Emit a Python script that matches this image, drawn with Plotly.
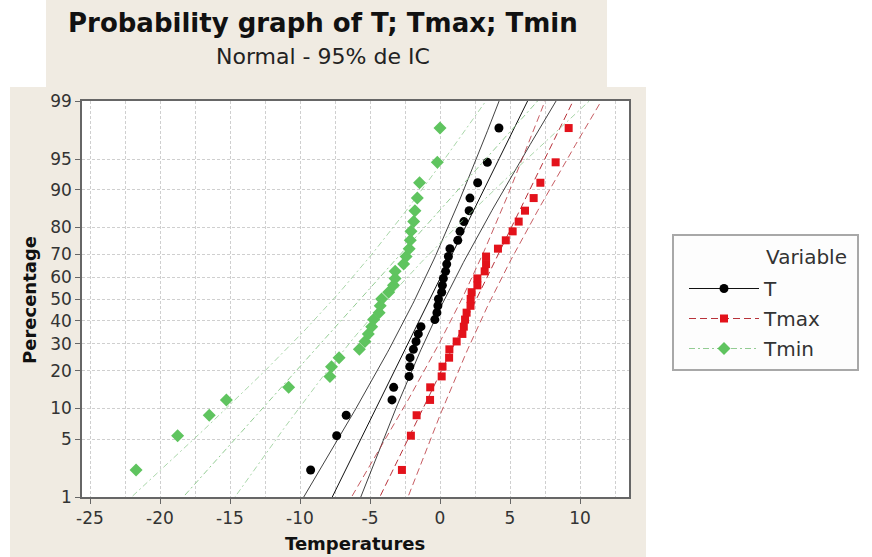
import numpy as np
import plotly.graph_objects as go
from statistics import NormalDist

# Daily temperatures (°C), one list per variable
T = [-9.24, -7.38, -6.70, -3.43, -3.31, -2.21, -2.16, -2.14, -1.90, -1.71, -1.55,
     -1.36, -0.37, -0.22, -0.15, -0.11, 0.12, 0.17, 0.24, 0.40, 0.48, 0.60, 0.71,
     1.27, 1.43, 1.71, 2.08, 2.14, 2.69, 3.38, 4.21]
TMAX = [-2.72, -2.08, -1.67, -0.71, -0.70, 0.12, 0.18, 0.65, 0.67, 1.19, 1.60,
        1.70, 1.79, 1.90, 2.18, 2.19, 2.26, 2.67, 2.67, 3.19, 3.29, 3.29, 4.14,
        4.70, 5.19, 5.62, 6.07, 6.69, 7.17, 8.26, 9.19]
TMIN = [-21.71, -18.74, -16.48, -15.26, -10.81, -7.86, -7.75, -7.21, -5.76, -5.36,
        -5.12, -4.88, -4.74, -4.35, -4.27, -4.17, -3.67, -3.32, -3.21, -3.20, -2.60,
        -2.42, -2.20, -2.12, -2.07, -1.88, -1.79, -1.62, -1.46, -0.19, 0.00]

SERIES_NAMES = ["T", "Tmax", "Tmin"]
PCT_TICKS = [1, 5, 10, 20, 30, 40, 50, 60, 70, 80, 90, 95, 99]
X_TICKS = [-25, -20, -15, -10, -5, 0, 5, 10]

nd = NormalDist()


def zscore(pct):
    return nd.inv_cdf(pct / 100.0)


Z_LO, Z_HI = zscore(PCT_TICKS[0]), zscore(PCT_TICKS[-1])
Z975 = nd.inv_cdf(0.975)

# figure geometry (pixels)
W, H = 872, 557
PL, PR, PT, PB = 82, 629, 101, 497


def px_x(px):
    return (px - PL) / (PR - PL)


def px_y(py):
    return (PB - py) / (PB - PT)


styles = {
    "T": dict(symbol="circle", msize=9, mcolor="#000000",
              dash="solid", lcolor="#111111", lwidth=1.0),
    "Tmax": dict(symbol="square", msize=8, mcolor="#e3121b",
                 dash="7px,4px", lcolor="#b8323a", lwidth=1.0),
    "Tmin": dict(symbol="diamond", msize=10, mcolor="#5fc45f",
                 dash="6px,3px,2px,3px", lcolor="#93cc93", lwidth=1.0),
}

fig = go.Figure()

zgrid = np.linspace(Z_LO - 0.1, Z_HI + 0.1, 120)
for name, vals in zip(SERIES_NAMES, [T, TMAX, TMIN]):
    st = styles[name]
    x = np.sort(np.asarray(vals, dtype=float))
    n = len(x)
    ranks = np.arange(1, n + 1)
    pos = (ranks - 0.3) / (n + 0.4)          # Benard median ranks
    zpts = np.array([nd.inv_cdf(p) for p in pos])
    mu, sd = x.mean(), x.std(ddof=1)
    fit = mu + sd * zgrid
    half = Z975 * sd * np.sqrt(1.0 / n + zgrid ** 2 / (2.0 * n))
    for xs, w in [(fit, st["lwidth"]), (fit - half, st["lwidth"] * 0.8),
                  (fit + half, st["lwidth"] * 0.8)]:
        fig.add_trace(go.Scatter(
            x=xs, y=zgrid, mode="lines", showlegend=False, hoverinfo="skip",
            line=dict(color=st["lcolor"], width=w, dash=st["dash"])))
    fig.add_trace(go.Scatter(
        x=x, y=zpts, mode="markers", showlegend=False, name=name,
        marker=dict(symbol=st["symbol"], size=st["msize"], color=st["mcolor"],
                    line=dict(width=0))))
    # legend entry
    fig.add_trace(go.Scatter(
        x=[None], y=[None], mode="lines+markers", name=name, legendgroup=name,
        line=dict(color=st["lcolor"], width=1, dash=st["dash"]),
        marker=dict(symbol=st["symbol"], size=st["msize"], color=st["mcolor"])))

BEIGE = "#f0ebe2"
shapes = [
    dict(type="rect", xref="paper", yref="paper", layer="below",
         x0=px_x(46), x1=px_x(607), y0=px_y(87), y1=px_y(0),
         fillcolor=BEIGE, line=dict(width=0)),
    dict(type="rect", xref="paper", yref="paper", layer="below",
         x0=px_x(10), x1=px_x(646), y0=px_y(557), y1=px_y(87),
         fillcolor=BEIGE, line=dict(width=0)),
    dict(type="rect", xref="paper", yref="paper", layer="below",
         x0=0, x1=1, y0=0, y1=1, fillcolor="#ffffff", line=dict(width=0)),
    dict(type="rect", xref="paper", yref="paper", layer="below",
         x0=px_x(673), x1=px_x(858), y0=px_y(370), y1=px_y(235),
         fillcolor="#fdfdfd", line=dict(color="#a8a8a8", width=2)),
]

FONT = "DejaVu Sans"
annotations = [
    dict(text="<b>Probability graph of T; Tmax; Tmin</b>", x=px_x(323), y=px_y(23),
         xref="paper", yref="paper", showarrow=False, xanchor="center", yanchor="middle",
         font=dict(family=FONT, size=26, color="#111111")),
    dict(text="Normal - 95% de IC", x=px_x(323), y=px_y(57),
         xref="paper", yref="paper", showarrow=False, xanchor="center", yanchor="middle",
         font=dict(family=FONT, size=22, color="#222222")),
    dict(text="<b>Temperatures</b>", x=px_x(355), y=px_y(543),
         xref="paper", yref="paper", showarrow=False, xanchor="center", yanchor="middle",
         font=dict(family=FONT, size=18, color="#111111")),
    dict(text="<b>Perecentage</b>", x=px_x(29), y=px_y(300), textangle=-90,
         xref="paper", yref="paper", showarrow=False, xanchor="center", yanchor="middle",
         font=dict(family=FONT, size=18, color="#111111")),
    dict(text="Variable", x=px_x(764), y=px_y(257),
         xref="paper", yref="paper", showarrow=False, xanchor="left", yanchor="middle",
         font=dict(family=FONT, size=20, color="#333333")),
]

grid = dict(gridcolor="#cfcfcf", griddash="3px,2px", gridwidth=1)

fig.update_layout(
    width=W, height=H,
    margin=dict(l=PL, r=W - PR, t=PT, b=H - PB, pad=0),
    paper_bgcolor="#ffffff", plot_bgcolor="#ffffff",
    shapes=shapes, annotations=annotations,
    font=dict(family=FONT, color="#333333"),
    legend=dict(x=px_x(684), y=px_y(269), xanchor="left", yanchor="top",
                bgcolor="rgba(0,0,0,0)", borderwidth=0, itemwidth=70,
                font=dict(family=FONT, size=20, color="#333333"),
                tracegroupgap=1, traceorder="grouped"),
    xaxis=dict(range=[(PL - 440) / 14.0, (PR - 440) / 14.0], tickvals=X_TICKS,
               ticktext=[str(v) for v in X_TICKS],
               ticks="outside", ticklen=5, tickcolor="#666666",
               showline=True, linecolor="#666666", linewidth=1.5, mirror=True,
               zeroline=False, showgrid=True, **grid,
               minor=dict(dtick=2.5, tick0=0, showgrid=True, ticks="", **grid),
               tickfont=dict(family=FONT, size=17, color="#333333")),
    yaxis=dict(range=[Z_LO, Z_HI], tickvals=[zscore(p) for p in PCT_TICKS],
               ticktext=[str(p) for p in PCT_TICKS],
               ticks="outside", ticklen=5, tickcolor="#666666",
               showline=True, linecolor="#666666", linewidth=1.5, mirror=True,
               zeroline=False, showgrid=True, **grid,
               tickfont=dict(family=FONT, size=17, color="#333333")),
)

fig.write_html("out.html")
